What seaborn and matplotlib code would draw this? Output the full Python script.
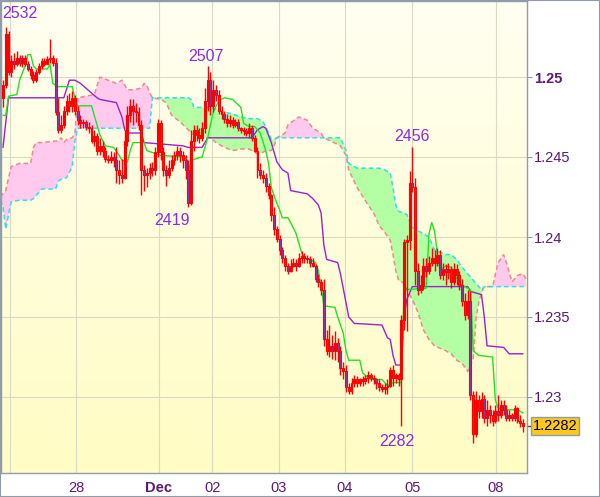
import numpy as np
import seaborn as sns
import matplotlib.pyplot as plt
from matplotlib import transforms, patches
from matplotlib.colors import LinearSegmentedColormap

# style first, fonts after (set_style resets font.family)
sns.set_style("white")
plt.rcParams['font.family'] = ['Liberation Sans', 'DejaVu Sans']

# ---- hourly candles (bar index 0..188) ----
opens = [
    1.2487, 1.2495, 1.2527, 1.2503, 1.2510, 1.2508, 1.2512, 1.2509, 1.2512, 1.2508,
    1.2505, 1.2501, 1.2498, 1.2503, 1.2507, 1.2510, 1.2508, 1.2511, 1.2512, 1.2509,
    1.2478, 1.2467, 1.2470, 1.2479, 1.2485, 1.2482, 1.2487, 1.2479, 1.2473, 1.2471,
    1.2472, 1.2469, 1.2468, 1.2460, 1.2463, 1.2454, 1.2457, 1.2454, 1.2449, 1.2448,
    1.2450, 1.2448, 1.2442, 1.2439, 1.2437, 1.2460, 1.2476, 1.2482, 1.2479, 1.2478,
    1.2470, 1.2442, 1.2439, 1.2440, 1.2443, 1.2442, 1.2453, 1.2471, 1.2453, 1.2442,
    1.2439, 1.2443, 1.2448, 1.2451, 1.2454, 1.2451, 1.2448, 1.2442, 1.2421, 1.2460,
    1.2467, 1.2464, 1.2462, 1.2468, 1.2485, 1.2498, 1.2482, 1.2492, 1.2489, 1.2479,
    1.2477, 1.2474, 1.2471, 1.2473, 1.2470, 1.2472, 1.2468, 1.2467, 1.2466, 1.2465,
    1.2468, 1.2462, 1.2454, 1.2442, 1.2439, 1.2437, 1.2432, 1.2426, 1.2414, 1.2405,
    1.2399, 1.2392, 1.2387, 1.2382, 1.2379, 1.2382, 1.2384, 1.2382, 1.2387, 1.2388,
    1.2387, 1.2386, 1.2384, 1.2382, 1.2374, 1.2372, 1.2367, 1.2336, 1.2329, 1.2332,
    1.2329, 1.2334, 1.2329, 1.2318, 1.2316, 1.2306, 1.2304, 1.2309, 1.2311, 1.2309,
    1.2311, 1.2310, 1.2312, 1.2314, 1.2312, 1.2311, 1.2309, 1.2306, 1.2305, 1.2306,
    1.2307, 1.2317, 1.2312, 1.2314, 1.2311, 1.2348, 1.2397, 1.2398, 1.2434, 1.2431,
    1.2379, 1.2367, 1.2370, 1.2382, 1.2379, 1.2384, 1.2387, 1.2384, 1.2389, 1.2376,
    1.2380, 1.2378, 1.2380, 1.2372, 1.2380, 1.2376, 1.2370, 1.2360, 1.2351, 1.2360,
    1.2301, 1.2277, 1.2298, 1.2291, 1.2299, 1.2287, 1.2292, 1.2289, 1.2285, 1.2291,
    1.2289, 1.2295, 1.2292, 1.2287, 1.2289, 1.2287, 1.2293, 1.2285, 1.2284,
]
highs = [
    1.2498, 1.2531, 1.2529, 1.2514, 1.2515, 1.2516, 1.2514, 1.2514, 1.2514, 1.2510,
    1.2507, 1.2504, 1.2505, 1.2509, 1.2512, 1.2512, 1.2513, 1.2524, 1.2514, 1.2512,
    1.2487, 1.2476, 1.2482, 1.2489, 1.2490, 1.2491, 1.2489, 1.2482, 1.2476, 1.2474,
    1.2473, 1.2472, 1.2470, 1.2467, 1.2465, 1.2462, 1.2460, 1.2456, 1.2451, 1.2454,
    1.2453, 1.2456, 1.2448, 1.2449, 1.2467, 1.2482, 1.2486, 1.2486, 1.2484, 1.2481,
    1.2473, 1.2445, 1.2443, 1.2446, 1.2447, 1.2456, 1.2474, 1.2473, 1.2456, 1.2445,
    1.2448, 1.2451, 1.2454, 1.2457, 1.2456, 1.2454, 1.2451, 1.2448, 1.2467, 1.2470,
    1.2470, 1.2468, 1.2472, 1.2493, 1.2507, 1.2503, 1.2498, 1.2495, 1.2492, 1.2482,
    1.2479, 1.2477, 1.2476, 1.2475, 1.2474, 1.2474, 1.2469, 1.2469, 1.2468, 1.2471,
    1.2470, 1.2464, 1.2456, 1.2446, 1.2442, 1.2440, 1.2434, 1.2427, 1.2419, 1.2407,
    1.2401, 1.2394, 1.2389, 1.2384, 1.2386, 1.2387, 1.2386, 1.2390, 1.2391, 1.2390,
    1.2389, 1.2388, 1.2387, 1.2383, 1.2377, 1.2374, 1.2374, 1.2342, 1.2345, 1.2339,
    1.2341, 1.2337, 1.2332, 1.2322, 1.2320, 1.2309, 1.2312, 1.2314, 1.2313, 1.2312,
    1.2313, 1.2314, 1.2316, 1.2315, 1.2314, 1.2312, 1.2311, 1.2308, 1.2309, 1.2311,
    1.2319, 1.2320, 1.2315, 1.2315, 1.2351, 1.2399, 1.2401, 1.2441, 1.2456, 1.2437,
    1.2384, 1.2376, 1.2387, 1.2387, 1.2388, 1.2393, 1.2392, 1.2393, 1.2392, 1.2384,
    1.2383, 1.2384, 1.2382, 1.2384, 1.2383, 1.2379, 1.2374, 1.2365, 1.2367, 1.2366,
    1.2304, 1.2304, 1.2301, 1.2303, 1.2301, 1.2298, 1.2295, 1.2292, 1.2295, 1.2301,
    1.2298, 1.2298, 1.2295, 1.2292, 1.2290, 1.2295, 1.2294, 1.2289, 1.2286,
]
lows = [
    1.2481, 1.2493, 1.2501, 1.2500, 1.2505, 1.2507, 1.2507, 1.2506, 1.2507, 1.2504,
    1.2499, 1.2496, 1.2497, 1.2502, 1.2505, 1.2507, 1.2508, 1.2509, 1.2507, 1.2476,
    1.2465, 1.2465, 1.2468, 1.2476, 1.2478, 1.2478, 1.2476, 1.2470, 1.2468, 1.2468,
    1.2467, 1.2465, 1.2459, 1.2457, 1.2451, 1.2451, 1.2450, 1.2447, 1.2446, 1.2446,
    1.2444, 1.2434, 1.2433, 1.2434, 1.2436, 1.2457, 1.2472, 1.2470, 1.2472, 1.2467,
    1.2426, 1.2429, 1.2431, 1.2436, 1.2438, 1.2439, 1.2450, 1.2448, 1.2438, 1.2432,
    1.2437, 1.2441, 1.2445, 1.2448, 1.2447, 1.2443, 1.2436, 1.2419, 1.2420, 1.2454,
    1.2460, 1.2459, 1.2460, 1.2465, 1.2479, 1.2476, 1.2478, 1.2485, 1.2477, 1.2474,
    1.2471, 1.2469, 1.2469, 1.2468, 1.2469, 1.2466, 1.2465, 1.2464, 1.2463, 1.2462,
    1.2460, 1.2453, 1.2437, 1.2436, 1.2434, 1.2428, 1.2424, 1.2410, 1.2401, 1.2397,
    1.2389, 1.2384, 1.2379, 1.2377, 1.2378, 1.2381, 1.2379, 1.2381, 1.2384, 1.2384,
    1.2384, 1.2381, 1.2381, 1.2372, 1.2369, 1.2364, 1.2332, 1.2326, 1.2325, 1.2324,
    1.2323, 1.2322, 1.2314, 1.2311, 1.2303, 1.2302, 1.2302, 1.2306, 1.2306, 1.2307,
    1.2307, 1.2308, 1.2309, 1.2310, 1.2308, 1.2305, 1.2304, 1.2303, 1.2302, 1.2302,
    1.2306, 1.2307, 1.2309, 1.2307, 1.2282, 1.2342, 1.2341, 1.2392, 1.2428, 1.2370,
    1.2364, 1.2365, 1.2367, 1.2375, 1.2377, 1.2382, 1.2379, 1.2382, 1.2374, 1.2373,
    1.2370, 1.2374, 1.2368, 1.2370, 1.2370, 1.2367, 1.2357, 1.2348, 1.2349, 1.2298,
    1.2271, 1.2275, 1.2287, 1.2287, 1.2284, 1.2282, 1.2284, 1.2282, 1.2284, 1.2285,
    1.2287, 1.2289, 1.2285, 1.2285, 1.2285, 1.2285, 1.2284, 1.2281, 1.2278,
]
closes = [
    1.2495, 1.2527, 1.2503, 1.2510, 1.2508, 1.2512, 1.2509, 1.2512, 1.2508, 1.2505,
    1.2501, 1.2498, 1.2503, 1.2507, 1.2510, 1.2508, 1.2511, 1.2512, 1.2509, 1.2478,
    1.2467, 1.2470, 1.2479, 1.2485, 1.2482, 1.2487, 1.2479, 1.2473, 1.2471, 1.2472,
    1.2469, 1.2468, 1.2460, 1.2463, 1.2454, 1.2457, 1.2454, 1.2449, 1.2448, 1.2450,
    1.2448, 1.2442, 1.2439, 1.2437, 1.2460, 1.2476, 1.2482, 1.2479, 1.2478, 1.2470,
    1.2442, 1.2439, 1.2440, 1.2443, 1.2442, 1.2453, 1.2471, 1.2453, 1.2442, 1.2439,
    1.2443, 1.2448, 1.2451, 1.2454, 1.2451, 1.2448, 1.2442, 1.2421, 1.2460, 1.2467,
    1.2464, 1.2462, 1.2468, 1.2485, 1.2498, 1.2482, 1.2492, 1.2489, 1.2479, 1.2477,
    1.2474, 1.2471, 1.2473, 1.2470, 1.2472, 1.2468, 1.2467, 1.2466, 1.2465, 1.2468,
    1.2462, 1.2454, 1.2442, 1.2439, 1.2437, 1.2432, 1.2426, 1.2414, 1.2405, 1.2399,
    1.2392, 1.2387, 1.2382, 1.2379, 1.2382, 1.2384, 1.2382, 1.2387, 1.2388, 1.2387,
    1.2386, 1.2384, 1.2382, 1.2374, 1.2372, 1.2367, 1.2336, 1.2329, 1.2332, 1.2329,
    1.2334, 1.2329, 1.2318, 1.2316, 1.2306, 1.2304, 1.2309, 1.2311, 1.2309, 1.2311,
    1.2310, 1.2312, 1.2314, 1.2312, 1.2311, 1.2309, 1.2306, 1.2305, 1.2306, 1.2307,
    1.2317, 1.2312, 1.2314, 1.2311, 1.2348, 1.2397, 1.2398, 1.2434, 1.2431, 1.2379,
    1.2367, 1.2370, 1.2382, 1.2379, 1.2384, 1.2387, 1.2384, 1.2389, 1.2376, 1.2380,
    1.2378, 1.2380, 1.2372, 1.2380, 1.2376, 1.2370, 1.2360, 1.2351, 1.2360, 1.2301,
    1.2277, 1.2298, 1.2291, 1.2299, 1.2287, 1.2292, 1.2289, 1.2285, 1.2291, 1.2289,
    1.2295, 1.2292, 1.2287, 1.2289, 1.2287, 1.2293, 1.2285, 1.2284, 1.2282,
]

# ---- tenkan (green) and kijun (purple), vertices at bar index ----
tenkan_x = [0, 1, 2, 5, 6, 8, 9, 10, 11, 12,
            16, 17, 18, 20, 25, 26, 27, 32, 33, 35,
            37, 40, 42, 43, 45, 46, 47, 51, 52, 57,
            66, 67, 68, 72, 74, 76, 78, 80, 83, 86,
            87, 89, 91, 93, 95, 96, 97, 99, 100, 101,
            103, 104, 106, 107, 108, 109, 111, 113, 114, 115,
            116, 120, 121, 123, 124, 125, 129, 130, 133, 137,
            139, 141, 144, 145, 153, 154, 155, 156, 157, 158,
            160, 162, 165, 168, 169, 170, 172, 177, 178, 179,
            182, 186, 188]
tenkan = [1.2476, 1.2476, 1.2488, 1.2489, 1.2498, 1.2507, 1.2514, 1.2514, 1.2507, 1.2505,
          1.2505, 1.2508, 1.2496, 1.2494, 1.2494, 1.2487, 1.2482, 1.2482, 1.2476, 1.2464,
          1.2457, 1.2456, 1.2451, 1.2448, 1.2447, 1.2454, 1.2459, 1.2459, 1.2454, 1.2451,
          1.2450, 1.2440, 1.2448, 1.2450, 1.2462, 1.2478, 1.2485, 1.2487, 1.2486, 1.2481,
          1.2471, 1.2469, 1.2469, 1.2465, 1.2454, 1.2446, 1.2431, 1.2421, 1.2417, 1.2412,
          1.2412, 1.2409, 1.2402, 1.2396, 1.2390, 1.2387, 1.2386, 1.2384, 1.2379, 1.2369,
          1.2357, 1.2356, 1.2350, 1.2340, 1.2329, 1.2323, 1.2323, 1.2315, 1.2311, 1.2311,
          1.2307, 1.2309, 1.2309, 1.2367, 1.2368, 1.2402, 1.2409, 1.2404, 1.2390, 1.2379,
          1.2382, 1.2381, 1.2371, 1.2368, 1.2367, 1.2329, 1.2326, 1.2325, 1.2298, 1.2293,
          1.2292, 1.2292, 1.2290]

kijun_x = [0, 2, 22, 24, 26, 28, 32, 34, 35, 41,
           43, 44, 45, 50, 51, 65, 67, 72, 74, 90,
           92, 94, 95, 97, 99, 101, 103, 104, 110, 112,
           114, 115, 116, 117, 121, 122, 124, 125, 127, 137,
           139, 140, 141, 142, 144, 145, 146, 148, 168, 169,
           173, 174, 175, 181, 183, 188]
kijun = [1.2456, 1.2487, 1.2487, 1.2498, 1.2498, 1.2496, 1.2490, 1.2487, 1.2486, 1.2484,
         1.2475, 1.2467, 1.2465, 1.2465, 1.2459, 1.2457, 1.2456, 1.2456, 1.2462, 1.2462,
         1.2467, 1.2469, 1.2468, 1.2459, 1.2447, 1.2442, 1.2440, 1.2429, 1.2427, 1.2424,
         1.2420, 1.2415, 1.2395, 1.2386, 1.2384, 1.2377, 1.2359, 1.2350, 1.2346, 1.2345,
         1.2337, 1.2336, 1.2326, 1.2320, 1.2320, 1.2350, 1.2361, 1.2369, 1.2369, 1.2366,
         1.2364, 1.2350, 1.2332, 1.2331, 1.2327, 1.2327]

# ---- cloud: senkou span A (cyan) and B (salmon) ----
cloud_x = [-1, 0, 1, 2, 3, 6, 10, 11, 12, 14,
           19, 20, 21, 22, 23, 25, 26, 27, 33, 35,
           38, 41, 43, 45, 47, 50, 51, 52, 53, 54,
           57, 59, 61, 64, 67, 68, 69, 71, 75, 77,
           80, 83, 86, 89, 92, 94, 95, 97, 98, 99,
           102, 103, 106, 107, 110, 112, 115, 116, 122, 124,
           125, 128, 132, 134, 136, 138, 140, 141, 142, 143,
           145, 146, 148, 150, 152, 154, 156, 160, 162, 164,
           166, 168, 170, 171, 172, 173, 174, 177, 179, 181,
           182, 184, 186, 188, 189]
senkou_a = [1.2423, 1.2419, 1.2405, 1.2414, 1.2422, 1.2423, 1.2423, 1.2424, 1.2426, 1.2430,
            1.2430, 1.2435, 1.2436, 1.2437, 1.2437, 1.2444, 1.2460, 1.2468, 1.2468, 1.2468,
            1.2468, 1.2468, 1.2468, 1.2468, 1.2468, 1.2468, 1.2468, 1.2468, 1.2468, 1.2487,
            1.2487, 1.2487, 1.2487, 1.2487, 1.2487, 1.2486, 1.2481, 1.2481, 1.2481, 1.2480,
            1.2478, 1.2477, 1.2475, 1.2474, 1.2474, 1.2472, 1.2469, 1.2461, 1.2461, 1.2462,
            1.2462, 1.2462, 1.2462, 1.2462, 1.2462, 1.2462, 1.2462, 1.2462, 1.2462, 1.2454,
            1.2446, 1.2443, 1.2443, 1.2443, 1.2443, 1.2442, 1.2440, 1.2431, 1.2420, 1.2416,
            1.2415, 1.2414, 1.2406, 1.2404, 1.2402, 1.2400, 1.2392, 1.2389, 1.2389, 1.2386,
            1.2381, 1.2377, 1.2373, 1.2371, 1.2369, 1.2367, 1.2369, 1.2369, 1.2369, 1.2369,
            1.2369, 1.2369, 1.2369, 1.2369, 1.2369]
senkou_b = [1.2425, 1.2427, 1.2429, 1.2437, 1.2444, 1.2446, 1.2446, 1.2456, 1.2459, 1.2459,
            1.2460, 1.2460, 1.2462, 1.2459, 1.2461, 1.2462, 1.2465, 1.2487, 1.2489, 1.2500,
            1.2498, 1.2496, 1.2498, 1.2492, 1.2492, 1.2493, 1.2496, 1.2495, 1.2490, 1.2487,
            1.2486, 1.2484, 1.2476, 1.2472, 1.2467, 1.2465, 1.2464, 1.2462, 1.2462, 1.2459,
            1.2456, 1.2454, 1.2455, 1.2455, 1.2452, 1.2453, 1.2454, 1.2454, 1.2457, 1.2462,
            1.2465, 1.2470, 1.2474, 1.2475, 1.2473, 1.2468, 1.2465, 1.2462, 1.2457, 1.2451,
            1.2442, 1.2431, 1.2420, 1.2415, 1.2407, 1.2403, 1.2398, 1.2389, 1.2379, 1.2373,
            1.2371, 1.2367, 1.2361, 1.2353, 1.2342, 1.2336, 1.2332, 1.2329, 1.2327, 1.2323,
            1.2321, 1.2316, 1.2324, 1.2349, 1.2359, 1.2365, 1.2369, 1.2369, 1.2384, 1.2389,
            1.2384, 1.2372, 1.2376, 1.2377, 1.2374]

# axis text
day_ticks = [26.4, 56.4, 75.6, 99.8, 123.6, 147.9, 178.2]
day_labels = ['28', 'Dec', '02', '03', '04', '05', '08']
price_ticks = [1.23, 1.235, 1.24, 1.245, 1.25]
price_labels = ['1.23', '1.235', '1.24', '1.245', '1.25']
last_price = 1.2282
extreme_notes = [('2532', 6.1, 1.25394), ('2507', 73.4, 1.25131), ('2419', 61.1, 1.24106),
                 ('2456', 147.9, 1.24631), ('2282', 142.4, 1.22725)]

frame_col = '#8f9cab'
label_col = '#5b1a73'

fig = plt.figure(figsize=(6.0, 4.97), dpi=100)
fig.patch.set_facecolor('white')
ax = fig.add_axes([1 / 600, 24 / 497, 526 / 600, 472 / 497])

# background gradient, pale cream to yellow
bg = LinearSegmentedColormap.from_list('bg', ['#fffff2', '#fffcc4'])
ax.imshow(np.linspace(0, 1, 256).reshape(-1, 1), extent=[0, 1, 0, 1],
          transform=ax.transAxes, aspect='auto', cmap=bg, zorder=0)

# cloud
cx = np.array(cloud_x, dtype=float)
sa = np.array(senkou_a)
sb = np.array(senkou_b)
ax.fill_between(cx, sa, sb, where=sa >= sb, interpolate=True,
                facecolor='#b4ffa4', lw=0, zorder=1)
ax.fill_between(cx, sa, sb, where=sa <= sb, interpolate=True,
                facecolor='#ffcaee', lw=0, zorder=1)
sns.lineplot(x=cloud_x, y=senkou_b, ax=ax, color='#f08888', lw=1.1,
             linestyle=(0, (3, 2)), estimator=None, sort=False, zorder=2)
sns.lineplot(x=cloud_x, y=senkou_a, ax=ax, color='#33ddee', lw=1.1,
             linestyle=(0, (3, 2)), estimator=None, sort=False, zorder=2)

# tenkan / kijun
sns.lineplot(x=kijun_x, y=kijun, ax=ax, color='#9a22cc', lw=1.0,
             estimator=None, sort=False, zorder=3)
sns.lineplot(x=tenkan_x, y=tenkan, ax=ax, color='#22e022', lw=1.0,
             estimator=None, sort=False, zorder=3)

# candles
o = np.array(opens)
c = np.array(closes)
idx = np.arange(len(c))
ax.vlines(idx, lows, highs, color='#ff0000', lw=1.0, zorder=5)
body_lo = np.minimum(o, c)
body_h = np.maximum(np.abs(c - o), 0.00004)
face = ['#7d3fb0' if cc < oo else 'none' for oo, cc in zip(o, c)]
ax.bar(idx, body_h, bottom=body_lo, width=0.7, color=face,
       edgecolor='#ff0000', lw=0.8, zorder=6)

# high / low notes
for txt, xi, yi in extreme_notes:
    ax.text(xi, yi, txt, ha='center', va='center', fontsize=11.5,
            color='#8a2be2', zorder=8)

ax.set_xlim(-0.72, 189.44)
ax.set_ylim(1.22525, 1.25475)

# grid and ticks
ax.set_axisbelow(True)
ax.grid(True, color='#dadac4', lw=0.8)
ax.axvline(2.5, color='#dadac4', lw=0.8, zorder=0.5)
ax.set_xticks(day_ticks)
ax.set_xticklabels(day_labels)
ax.yaxis.tick_right()
ax.set_yticks(price_ticks)
ax.set_yticklabels(price_labels)
ax.tick_params(axis='x', length=3, width=0.8, color=frame_col, pad=3,
               labelsize=10.5, labelcolor=label_col)
ax.tick_params(axis='y', length=3.6, width=0.8, color=frame_col, pad=1.5,
               labelsize=10.5, labelcolor=label_col)
for lab in ax.get_xticklabels():
    if lab.get_text() == 'Dec':
        lab.set_fontweight('bold')
for lab in ax.get_yticklabels():
    if lab.get_text() == '1.25':
        lab.set_fontweight('bold')

for s in ax.spines.values():
    s.set_color(frame_col)
    s.set_linewidth(1.0)

# last price marker on the right
trans = transforms.blended_transform_factory(ax.transAxes, ax.transData)
ax.plot([1.0, 1.0095], [last_price, last_price], transform=trans,
        color='#444444', lw=1.0, clip_on=False)
ax.text(1.0105, last_price, f'{last_price:.4f}', transform=trans,
        ha='left', va='center', fontsize=10.5, color='black',
        bbox=dict(boxstyle='square,pad=0.12', fc='#fcc81c', ec=frame_col, lw=1.0))

# outer frame
fig.patches.append(patches.Rectangle((0, 0), 1, 1, transform=fig.transFigure,
                                     fill=False, edgecolor=frame_col, lw=1.5))

fig.savefig('out.png', dpi=100)
